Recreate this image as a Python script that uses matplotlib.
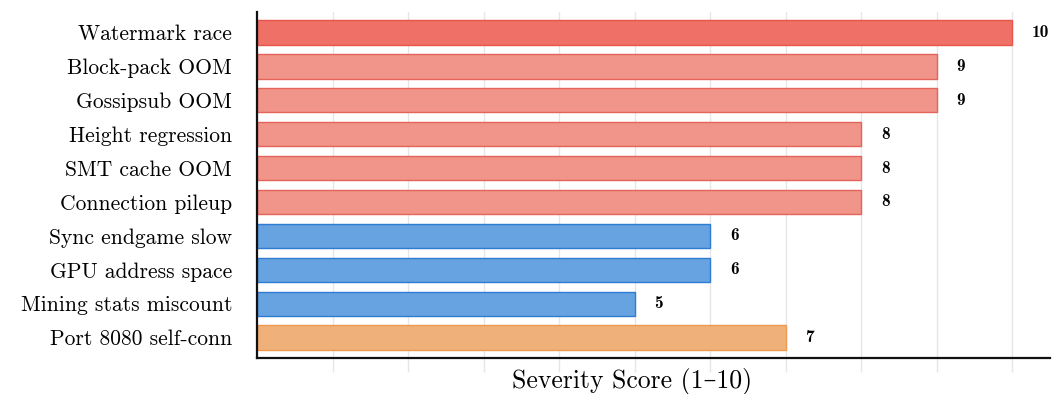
import matplotlib
matplotlib.use('Agg')
import matplotlib.pyplot as plt
import numpy as np

# incidents, top to bottom
incidents = [
    "Watermark race", "Block-pack OOM", "Gossipsub OOM", "Height regression",
    "SMT cache OOM", "Connection pileup", "Sync endgame slow",
    "GPU address space", "Mining stats miscount", "Port 8080 self-conn",
]
severity = [10, 9, 9, 8, 8, 8, 6, 6, 5, 7]
kind = ["critical", "memory", "memory", "memory", "memory", "memory",
        "perf", "perf", "perf", "network"]

face = {"critical": "#ee7066", "memory": "#f1958a", "perf": "#66a3e0", "network": "#f0b07a"}
edge = {"critical": "#e8564a", "memory": "#e5645a", "perf": "#2e7dd2", "network": "#ee9a4e"}

plt.rcParams['font.family'] = ['cmr10', 'DejaVu Serif']
plt.rcParams['axes.formatter.use_mathtext'] = True

fig = plt.figure(figsize=(10.56, 3.94), dpi=100)
ax = fig.add_axes([0.2434, 0.0914, 0.7509, 0.878])

y = np.arange(len(incidents))
ax.barh(y, severity, height=0.72,
        color=[face[k] for k in kind], edgecolor=[edge[k] for k in kind],
        linewidth=1.0, zorder=3)

for yi, v in zip(y, severity):
    ax.text(v + 0.26, yi, str(v), va='center', ha='left',
            family=['cmb10', 'DejaVu Serif'], fontsize=12.5, zorder=4)

ax.set_xlim(0, 10.5)
ax.set_ylim(len(incidents) - 0.4, -0.6)
ax.set_yticks(y)
ax.set_yticklabels(incidents, fontsize=15.5)
ax.tick_params(axis='y', length=0, pad=18)

ax.set_xticks(np.arange(1, 11))
ax.tick_params(axis='x', length=10, width=1.0, color='#e6e6e6', labelbottom=False)
ax.grid(axis='x', color='#e6e6e6', linewidth=1.0, zorder=0)

for s in ('top', 'right'):
    ax.spines[s].set_visible(False)
for s in ('left', 'bottom'):
    ax.spines[s].set_linewidth(1.6)
    ax.spines[s].set_color('#111111')
    ax.spines[s].set_zorder(5)

ax.set_xlabel("Severity Score (1–10)", fontsize=18.5)
ax.xaxis.set_label_coords(0.473, -0.03, transform=ax.transAxes)
ax.xaxis.label.set_va('top')

fig.savefig("out.png", dpi=100)
